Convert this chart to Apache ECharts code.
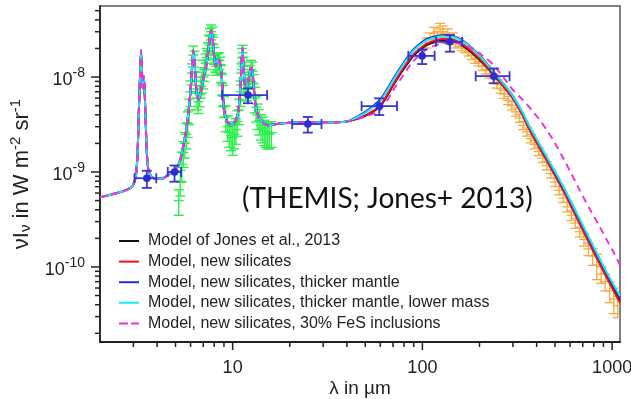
<!DOCTYPE html>
<html><head><meta charset="utf-8">
<script src="https://cdn.jsdelivr.net/npm/echarts@6/dist/echarts.min.js"></script>
<style>html,body{margin:0;padding:0;background:#fff}#c{width:631px;height:399px}</style>
</head><body><div id="c"></div>
<script>
// ---- axis ranges and ticks ----
const xMin = 2, xMax = 1100, yMin = 1.62e-11, yMax = 5.6e-8;
const xMajorTicks = [10, 100, 1000];
const xMinorTicks = [3,4,5,6,7,8,9,20,30,40,50,60,70,80,90,200,300,400,500,600,700,800,900];
const yMajorTicks = [1e-10, 1e-9, 1e-8];
const yMinorTicks = [2e-11,3e-11,4e-11,5e-11,6e-11,7e-11,8e-11,9e-11,2e-10,3e-10,4e-10,5e-10,6e-10,7e-10,8e-10,9e-10,2e-9,3e-9,4e-9,5e-9,6e-9,7e-9,8e-9,9e-9,2e-8,3e-8,4e-8,5e-8];

// ---- model curves: shared near/mid-IR part (identical for all models) ----
const midLambda = [2.0,2.3,2.6,2.9,3.0,3.1,3.16,3.2,3.25,3.29,3.32,3.35,3.39,3.43,3.48,3.53,3.6,3.75,4.0,4.3,4.6,4.9,5.1,5.3,5.5,5.7,5.9,6.05,6.2,6.3,6.45,6.6,6.8,7.0,7.25,7.45,7.6,7.72,7.85,8.0,8.15,8.35,8.55,8.75,9.0,9.3,9.6,9.9,10.3,10.7,11.0,11.15,11.27,11.4,11.6,11.9,12.2,12.5,12.7,12.9,13.2,13.7,14.5,15.5,17,20,25,30,35,40];
const midFlux = [5.4e-10,5.8e-10,6.2e-10,6.8e-10,7.4e-10,9.5e-10,1.7e-9,4.0e-9,1.0e-8,1.9e-8,1.3e-8,7.6e-9,1.03e-8,8.0e-9,3.5e-9,1.6e-9,1.05e-9,8.8e-10,8.5e-10,8.6e-10,9.4e-10,1.04e-9,1.12e-9,1.35e-9,1.9e-9,2.8e-9,5.0e-9,9.0e-9,1.9e-8,1.4e-8,7.0e-9,5.8e-9,7.0e-9,9.5e-9,1.3e-8,1.9e-8,2.7e-8,3.1e-8,2.6e-8,1.6e-8,1.3e-8,1.55e-8,1.45e-8,1.05e-8,4.5e-9,3.5e-9,3.2e-9,3.1e-9,3.4e-9,4.3e-9,8.0e-9,1.5e-8,2.05e-8,1.3e-8,8.5e-9,8.0e-9,1.0e-8,1.25e-8,1.2e-8,8.0e-9,5.0e-9,3.8e-9,3.3e-9,3.1e-9,3.2e-9,3.3e-9,3.35e-9,3.35e-9,3.35e-9,3.4e-9];

// ---- model curves: far-IR part ----
const farLambda = [50,60,73,89,105,128,150,171,200,236,270,300,335,369,434,553,700,830,960,1100];
const farJones   = [3.9e-9,4.9e-9,9.3e-9,1.64e-8,2.17e-8,2.45e-8,2.35e-8,2.0e-8,1.52e-8,1.07e-8,7.8e-9,6.0e-9,4.1e-9,2.77e-9,1.55e-9,6.5e-10,2.53e-10,1.28e-10,7.3e-11,4.4e-11];
const farNewSil  = [3.95e-9,5.0e-9,9.6e-9,1.7e-8,2.24e-8,2.52e-8,2.42e-8,2.06e-8,1.56e-8,1.08e-8,7.8e-9,5.95e-9,4.05e-9,2.72e-9,1.52e-9,6.3e-10,2.45e-10,1.23e-10,7.0e-11,4.2e-11];
const farThick   = [4.3e-9,5.8e-9,1.09e-8,1.92e-8,2.5e-8,2.77e-8,2.65e-8,2.26e-8,1.7e-8,1.15e-8,8.3e-9,6.3e-9,4.3e-9,2.92e-9,1.64e-9,6.9e-10,2.7e-10,1.37e-10,7.8e-11,4.8e-11];
const farLowMass = [4.2e-9,5.6e-9,1.05e-8,1.86e-8,2.43e-8,2.7e-8,2.6e-8,2.22e-8,1.68e-8,1.14e-8,8.3e-9,6.3e-9,4.35e-9,2.95e-9,1.67e-9,7.05e-10,2.76e-10,1.4e-10,8.0e-11,4.95e-11];
const farLambdaFeS = [50,60,73,89,105,128,150,171,200,236,270,300,340,380,417,452,489,540,600,676,760,861,960,1021,1100];
const farFeS     = [3.8e-9,4.5e-9,8.2e-9,1.45e-8,1.95e-8,2.28e-8,2.3e-8,2.12e-8,1.78e-8,1.35e-8,9.7e-9,7.3e-9,5.7e-9,4.4e-9,3.5e-9,2.77e-9,2.17e-9,1.52e-9,1.02e-9,6.4e-10,4.1e-10,2.64e-10,1.76e-10,1.41e-10,1.05e-10];

// ---- photometric points (blue) ----
const photLambda = [3.53,4.94,12.05,24.9,59.2,99.7,139.6,238];
const photFlux   = [8.6e-10,1.0e-9,6.45e-9,3.2e-9,4.95e-9,1.67e-8,2.35e-8,1.02e-8];
const photXLo    = [3.04,4.55,8.8,20.6,47.8,84.3,118,191];
const photXHi    = [3.96,5.35,15.2,29.4,73.5,116,162,288];
const photYLo    = [6.8e-10,7.9e-10,5.3e-9,2.6e-9,3.98e-9,1.37e-8,1.85e-8,8.6e-9];
const photYHi    = [1.03e-9,1.17e-9,7.6e-9,3.8e-9,5.97e-9,1.95e-8,2.77e-8,1.23e-8];

// ---- mid-IR spectrum (green) ----
const specLambda = [5.2,5.3,5.4,5.5,5.6,5.7,5.8,5.9,6.0,6.1,6.2,6.3,6.4,6.5,6.6,6.7,6.8,6.9,7.0,7.1,7.2,7.3,7.4,7.5,7.6,7.7,7.8,7.9,8.0,8.1,8.2,8.3,8.4,8.5,8.6,8.7,8.8,8.9,9.0,9.2,9.4,9.6,9.8,10.0,10.2,10.4,10.6,10.8,11.0,11.1,11.2,11.3,11.4,11.5,11.7,11.9,12.1,12.3,12.5,12.7,12.9,13.1,13.3,13.5,13.8,14.1,14.4,14.7,15.0,15.3,15.6,16.0];
const specFlux = [5.0e-10,8.0e-10,1.2e-9,1.6e-9,2.0e-9,2.5e-9,3.3e-9,4.5e-9,7.0e-9,1.1e-8,1.7e-8,1.5e-8,9.0e-9,6.0e-9,5.5e-9,6.5e-9,8.0e-9,9.0e-9,1.0e-8,1.2e-8,1.4e-8,1.6e-8,1.9e-8,2.3e-8,2.7e-8,3.0e-8,2.8e-8,2.2e-8,1.7e-8,1.4e-8,1.3e-8,1.45e-8,1.5e-8,1.5e-8,1.35e-8,1.1e-8,8.5e-9,6.5e-9,5.0e-9,3.8e-9,3.0e-9,2.6e-9,2.4e-9,2.3e-9,2.5e-9,2.8e-9,3.4e-9,4.5e-9,7.0e-9,1.1e-8,1.6e-8,1.8e-8,1.3e-8,9.0e-9,7.5e-9,7.5e-9,8.5e-9,1.05e-8,1.2e-8,1.15e-8,8.5e-9,6.0e-9,4.8e-9,4.0e-9,3.5e-9,3.1e-9,2.9e-9,2.7e-9,2.6e-9,2.5e-9,2.5e-9,2.6e-9];
const specErr = [0.3,0.3,0.35,0.3,0.3,0.3,0.3,0.3,0.3,0.25,0.25,0.25,0.25,0.25,0.25,0.25,0.25,0.25,0.25,0.25,0.25,0.25,0.2,0.2,0.2,0.18,0.2,0.2,0.2,0.2,0.2,0.2,0.2,0.2,0.2,0.2,0.25,0.25,0.25,0.3,0.3,0.3,0.3,0.35,0.3,0.3,0.3,0.3,0.3,0.25,0.25,0.2,0.25,0.25,0.25,0.25,0.25,0.25,0.25,0.25,0.25,0.3,0.3,0.3,0.3,0.3,0.3,0.3,0.3,0.3,0.3,0.3];

// ---- far-IR spectrum (orange) ----
const firLambda = [105,110,115,120,124,128,132,136,140,145,150,156,162,168,175,182,190,198,207,216,226,236,247,258,270,283,296,310,325,340,356,373,390,410,430,452,475,500,525,552,580,610,640,675,710,750,790,830,875,920,970,1020,1070];
const firFlux = [2.3e-8,2.6e-8,2.9e-8,2.7e-8,3.2e-8,3.0e-8,2.6e-8,2.8e-8,2.5e-8,2.6e-8,2.3e-8,2.3e-8,2.1e-8,2.0e-8,1.85e-8,1.7e-8,1.55e-8,1.45e-8,1.3e-8,1.2e-8,1.08e-8,9.6e-9,8.5e-9,7.5e-9,6.6e-9,5.7e-9,5.0e-9,4.3e-9,3.7e-9,3.1e-9,2.65e-9,2.25e-9,1.95e-9,1.65e-9,1.4e-9,1.17e-9,9.6e-10,7.8e-10,6.4e-10,5.3e-10,4.3e-10,3.5e-10,2.9e-10,2.35e-10,1.95e-10,1.55e-10,1.3e-10,1.05e-10,8.4e-11,7.0e-11,5.6e-11,4.6e-11,3.9e-11];
const firErr = [0.12,0.12,0.15,0.12,0.15,0.15,0.12,0.15,0.12,0.12,0.12,0.1,0.1,0.1,0.1,0.1,0.1,0.1,0.1,0.1,0.1,0.1,0.1,0.1,0.1,0.1,0.1,0.1,0.1,0.1,0.1,0.1,0.1,0.1,0.1,0.1,0.1,0.1,0.1,0.1,0.12,0.12,0.12,0.12,0.15,0.15,0.2,0.3,0.2,0.2,0.25,0.3,0.25];

const modelNames = ['Model of Jones et al., 2013','Model, new silicates','Model, new silicates, thicker mantle','Model, new silicates, thicker mantle, lower mass','Model, new silicates, 30% FeS inclusions'];
const modelColors = ['#111111','#e8141c','#1f2fe0','#1fe6f2','#ee33dd'];

function pairs(xs, ys){ return xs.map((x,i)=>[x, ys[i]]); }
function model(far, farL){ return pairs(midLambda, midFlux).concat(pairs(farL, far)); }

const FONT = 'Liberation Sans, Arial, sans-serif';

function vErr(color, cap, lw){
  return function(params, api){
    const x = api.value(0), y = api.value(1), lo = api.value(2), hi = api.value(3);
    const a = api.coord([x, lo]), b = api.coord([x, hi]), c = api.coord([x, y]);
    const st = {stroke: color, lineWidth: lw};
    return {type:'group', children:[
      {type:'line', shape:{x1:a[0],y1:a[1],x2:b[0],y2:b[1]}, style:st},
      {type:'line', shape:{x1:a[0]-cap,y1:a[1],x2:a[0]+cap,y2:a[1]}, style:st},
      {type:'line', shape:{x1:b[0]-cap,y1:b[1],x2:b[0]+cap,y2:b[1]}, style:st},
      {type:'line', shape:{x1:c[0]-cap,y1:c[1],x2:c[0]+cap,y2:c[1]}, style:st}
    ]};
  };
}

const specData = specLambda.map((l,i)=>[l, specFlux[i], specFlux[i]*(1-specErr[i]), specFlux[i]*(1+specErr[i])]);
const firData = firLambda.map((l,i)=>[l, firFlux[i], firFlux[i]*(1-firErr[i]), firFlux[i]*(1+firErr[i])]);
const photData = photLambda.map((l,i)=>[l, photFlux[i], photXLo[i], photXHi[i], photYLo[i], photYHi[i]]);

const tickData = []
  .concat(xMajorTicks.map(v=>['x', v, 8]))
  .concat(xMinorTicks.map(v=>['x', v, 5]))
  .concat(yMajorTicks.map(v=>['y', v, 9]))
  .concat(yMinorTicks.map(v=>['y', v, 5]));

const series = [
  {type:'custom', name:'spec', z:2, clip:true, silent:true, data:specData, renderItem: vErr('#2cf04c', 5, 1.4)},
  {type:'custom', name:'fir', z:2, clip:true, silent:true, data:firData, renderItem: vErr('#f8aa40', 5, 1.3)}
];
const farSets = [[farJones, farLambda],[farNewSil, farLambda],[farThick, farLambda],[farLowMass, farLambda],[farFeS, farLambdaFeS]];
farSets.forEach((fs, i)=>{
  series.push({
    type:'line', name: modelNames[i], data: model(fs[0], fs[1]), symbol:'none', smooth:0.2,
    z: 3+i, clip:true,
    lineStyle:{color: modelColors[i], width: 2, type: i===4 ? [7,5] : 'solid'},
    itemStyle:{color: modelColors[i]}
  });
});
series.push({
  type:'custom', name:'phot', z:10, clip:false, silent:true, data: photData,
  renderItem: function(params, api){
    const x = api.value(0), y = api.value(1);
    const c = api.coord([x, y]);
    const l = api.coord([api.value(2), y]), r = api.coord([api.value(3), y]);
    const lo = api.coord([x, api.value(4)]), hi = api.coord([x, api.value(5)]);
    const st = {stroke:'#3535d8', lineWidth:1.8};
    const cap = 5;
    return {type:'group', children:[
      {type:'line', shape:{x1:l[0],y1:c[1],x2:r[0],y2:c[1]}, style:st},
      {type:'line', shape:{x1:l[0],y1:c[1]-cap,x2:l[0],y2:c[1]+cap}, style:st},
      {type:'line', shape:{x1:r[0],y1:c[1]-cap,x2:r[0],y2:c[1]+cap}, style:st},
      {type:'line', shape:{x1:c[0],y1:lo[1],x2:c[0],y2:hi[1]}, style:st},
      {type:'line', shape:{x1:c[0]-cap,y1:lo[1],x2:c[0]+cap,y2:lo[1]}, style:st},
      {type:'line', shape:{x1:c[0]-cap,y1:hi[1],x2:c[0]+cap,y2:hi[1]}, style:st},
      {type:'circle', shape:{cx:c[0], cy:c[1], r:3.8}, style:{fill:'#2c2cd6'}}
    ]};
  }
});
series.push({
  type:'custom', name:'ticks', z:20, clip:false, silent:true, data: tickData,
  encode:{x:1, y:1},
  renderItem: function(params, api){
    const d = tickData[params.dataIndex];
    const st = {stroke:'#222', lineWidth:1.5};
    if (d[0]==='x'){
      const p = api.coord([d[1], yMin]);
      return {type:'line', shape:{x1:p[0],y1:p[1],x2:p[0],y2:p[1]+d[2]}, style:st};
    } else {
      const p = api.coord([xMin, d[1]]);
      return {type:'line', shape:{x1:p[0],y1:p[1],x2:p[0]-d[2],y2:p[1]}, style:st};
    }
  }
});

const solidIcon = 'path://M0,0h20v2h-20z';
const dashIcon = 'path://M0,0h9v2h-9zM12,0h8v2h-8z';

const chart = echarts.init(document.getElementById('c'), null, {renderer:'canvas'});
chart.setOption({
  animation:false,
  backgroundColor:'#fff',
  grid:{left:100, right:11, top:6, bottom:57, show:true, borderColor:'#555', borderWidth:1.5, backgroundColor:'transparent', outerBoundsMode:'none', containLabel:false},
  xAxis:{
    type:'log', logBase:10, min:xMin, max:xMax,
    name:'λ in µm', nameLocation:'middle', nameGap:37, nameMoveOverlap:false,
    nameTextStyle:{fontSize:19, color:'#222', fontFamily:FONT},
    axisLine:{show:true, lineStyle:{color:'#222', width:1.8}},
    axisTick:{show:false}, splitLine:{show:false}, minorTick:{show:false},
    axisLabel:{show:true, fontSize:18, color:'#222', fontFamily:FONT, margin:17, showMinLabel:false, showMaxLabel:false,
      formatter: v => String(Math.round(v))}
  },
  yAxis:{
    type:'log', logBase:10, min:yMin, max:yMax,
    name:'{a|νI}{sub|ν}{a| in W m}{sup|-2}{a| sr}{sup|-1}', nameLocation:'middle', nameGap:61,
    nameTextStyle:{fontSize:22, color:'#222', fontFamily:FONT,
      rich:{a:{fontSize:22, color:'#222', fontFamily:FONT}, sub:{fontSize:15, color:'#222', fontFamily:FONT, padding:[9,0,0,0]}, sup:{fontSize:15, color:'#222', fontFamily:FONT, padding:[0,0,11,0]}}},
    axisLine:{show:true, lineStyle:{color:'#222', width:1.8}},
    axisTick:{show:false}, splitLine:{show:false}, minorTick:{show:false},
    axisLabel:{show:true, margin:15, showMinLabel:false, showMaxLabel:false,
      formatter: v => '{b|10}{s|' + Math.round(Math.log10(v)) + '}',
      rich:{b:{fontSize:18, color:'#222', fontFamily:FONT, padding:[6,0,0,0]}, s:{fontSize:14, color:'#222', fontFamily:FONT, padding:[0,0,8,0]}}}
  },
  legend:{
    data: modelNames.map((n,i)=>({name:n, icon: i===4 ? dashIcon : solidIcon})),
    orient:'vertical', left:114, top:228,
    itemWidth:20, itemHeight:14, itemGap:4.6,
    textStyle:{fontSize:16, color:'#222', fontFamily:FONT, padding:[0,0,0,4]},
    backgroundColor:'transparent', selectedMode:false
  },
  graphic:[{type:'text', left:242, top:185, z:30, style:{text:'(THEMIS; Jones+ 2013)', font:'28px Lato, "Open Sans", sans-serif', fill:'#111'}}],
  series: series
});
</script></body></html>
